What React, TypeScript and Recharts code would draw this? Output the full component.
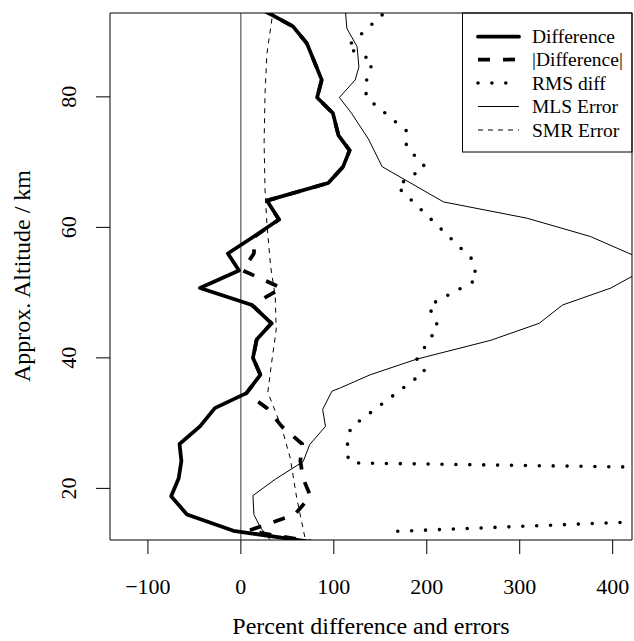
import React from 'react';
import {
  ScatterChart,
  Scatter,
  XAxis,
  YAxis,
  ReferenceLine,
  ReferenceArea,
  Label,
  Customized,
} from 'recharts';

const FONT = '"Liberation Serif", "Times New Roman", Times, serif';

// ---- Data (altitude km, percent) ----
const diffAlt = [93.6, 90.8, 88.2, 85.4, 82.6, 79.9, 77.5, 74.1, 71.8, 69.3, 66.8, 64.1, 61.2, 58.6, 56.0, 53.4, 50.7, 48.1, 45.3, 42.8, 40.0, 37.4, 34.6, 32.3, 29.5, 26.8, 24.2, 21.5, 18.8, 16.0, 13.5, 11.5];
const diffVal = [20, 56, 71, 79, 87, 82, 99, 105, 117, 110, 94, 28, 41, 14, -14, -2, -44, 12, 33, 17, 13, 21, 6, -28, -44, -66, -64, -67, -75, -58, -8, 90];

const absAlt = [93.6, 90.8, 88.2, 85.4, 82.6, 79.9, 77.5, 74.1, 71.8, 69.3, 66.8, 64.1, 61.2, 58.6, 56.0, 53.4, 50.7, 48.1, 45.3, 42.8, 40.0, 37.4, 34.6, 32.3, 29.5, 26.8, 24.2, 21.5, 18.8, 16.0, 13.5, 11.5];
const absVal = [20, 56, 71, 79, 87, 82, 99, 105, 117, 110, 94, 28, 41, 15, 14, 2, 44, 12, 33, 17, 13, 21, 6, 28, 44, 66, 64, 67, 75, 58, 8, 90];

const rmsAlt = [94.0, 87.6, 85.5, 82.0, 79.9, 74.8, 72.4, 69.3, 66.3, 55.1, 52.0, 48.0, 44.8, 39.7, 37.9, 29.3, 25.4, 23.9, 21.0, 13.4];
const rmsVal = [163, 114, 142, 134, 135, 178, 178, 198, 168, 249, 254, 202, 212, 189, 198, 118, 113, 118.5, 1508, 164];

const mlsAlt = [94.0, 90.5, 87.7, 84.6, 82.6, 79.9, 77.5, 73.6, 69.3, 63.9, 61.4, 58.6, 55.8, 54.2, 52.5, 50.7, 48.1, 45.3, 42.7, 39.8, 37.4, 35.4, 34.9, 32.1, 29.5, 26.7, 24.1, 21.4, 18.9, 16.0, 14.0, 12.2, 11.0];
const mlsVal = [112, 114, 125, 127, 123, 106, 119, 137, 152, 218, 308, 376, 421, 455, 421, 398, 346, 321, 269, 189, 139, 107, 98, 88, 91, 74, 67, 37, 13, 14, 21, 31, 38];

const smrAlt = [93.5, 86.6, 80.5, 72.9, 65.7, 60.6, 54.0, 49.4, 44.3, 39.2, 34.7, 29.3, 24.7, 18.6, 12.4, 11.0];
const smrVal = [35, 28, 26, 25, 26, 28, 32, 37, 38, 33, 29, 44, 53, 60, 69, 71];

const xTicks = [-100, 0, 100, 200, 300, 400];
const yTicks = [20, 40, 60, 80];

const legendLabels = ['Difference', '|Difference|', 'RMS diff', 'MLS Error', 'SMR Error'];

const toPts = (alt: number[], val: number[]) => alt.map((a, i) => ({ x: val[i], y: a }));

const diffPts = toPts(diffAlt, diffVal);
const absPts = toPts(absAlt, absVal);
const rmsPts = toPts(rmsAlt, rmsVal);
const mlsPts = toPts(mlsAlt, mlsVal);
const smrPts = toPts(smrAlt, smrVal);

const STYLES: any[] = [
  { stroke: '#000', strokeWidth: 3.75, strokeLinejoin: 'round', strokeLinecap: 'round' },
  { stroke: '#000', strokeWidth: 3.75, strokeLinejoin: 'round', strokeLinecap: 'butt', strokeDasharray: '12 13' },
  { stroke: '#000', strokeWidth: 3.6, strokeLinejoin: 'round', strokeLinecap: 'round', strokeDasharray: '0 13.9' },
  { stroke: '#000', strokeWidth: 1, strokeLinejoin: 'round' },
  { stroke: '#000', strokeWidth: 1, strokeLinejoin: 'round', strokeDasharray: '5 5' },
];

const fmt = (v: number) => (v < 0 ? '\u2212' + Math.abs(v) : String(v));

const XTick = (props: any) => {
  const { x, y, payload } = props;
  return (
    <text x={x} y={y + 40} textAnchor="middle" fontFamily={FONT} fontSize={22} fill="#000">
      {fmt(payload.value)}
    </text>
  );
};

const YTick = (props: any) => {
  const { x, y, payload } = props;
  const tx = x - 20;
  return (
    <text
      x={tx}
      y={y}
      transform={`rotate(-90 ${tx} ${y})`}
      textAnchor="middle"
      fontFamily={FONT}
      fontSize={22}
      fill="#000"
    >
      {fmt(payload.value)}
    </text>
  );
};

const noShape = () => <g />;

const LegendBox = () => {
  const left = 462.5;
  const top = 13;
  const rows = [36.7, 59.5, 83, 106.5, 130];
  return (
    <g>
      <rect x={left} y={top} width={169.5} height={139} fill="#fff" stroke="#000" strokeWidth={1} />
      {legendLabels.map((lab, i) => (
        <g key={lab}>
          <line x1={478} x2={519} y1={rows[i]} y2={rows[i]} {...STYLES[i]} />
          <text x={532} y={rows[i] + 6.5} fontFamily={FONT} fontSize={19.5} fill="#000">
            {lab}
          </text>
        </g>
      ))}
    </g>
  );
};

export default function App() {
  return (
    <div style={{ position: 'absolute', left: 0, top: 0, width: 634, height: 641, background: '#fff' }}>
      <ScatterChart width={634} height={641} margin={{ top: 13, right: 2, bottom: 0, left: 0 }}>
        <XAxis
          type="number"
          dataKey="x"
          domain={[-140.8, 420.8]}
          allowDataOverflow
          ticks={xTicks}
          interval={0}
          tickSize={14}
          tickMargin={0}
          axisLine={false}
          tickLine={{ stroke: '#000', strokeWidth: 1 }}
          tick={<XTick />}
          height={101}
        >
          <Label
            content={() => (
              <text x={371} y={634} textAnchor="middle" fontFamily={FONT} fontSize={24} fill="#000">
                Percent difference and errors
              </text>
            )}
          />
        </XAxis>
        <YAxis
          type="number"
          dataKey="y"
          domain={[12.09, 92.85]}
          allowDataOverflow
          ticks={yTicks}
          interval={0}
          tickSize={14}
          tickMargin={0}
          axisLine={false}
          tickLine={{ stroke: '#000', strokeWidth: 1 }}
          tick={<YTick />}
          width={110}
        >
          <Label
            content={() => (
              <text
                x={30}
                y={276}
                transform="rotate(-90 30 276)"
                textAnchor="middle"
                fontFamily={FONT}
                fontSize={24}
                fill="#000"
              >
                Approx. Altitude / km
              </text>
            )}
          />
        </YAxis>
        <ReferenceLine x={0} stroke="#333" strokeWidth={1} />
        <Scatter data={diffPts} line={STYLES[0]} lineJointType="linear" shape={noShape} isAnimationActive={false} />
        <Scatter data={absPts} line={STYLES[1]} lineJointType="linear" shape={noShape} isAnimationActive={false} />
        <Scatter data={rmsPts} line={STYLES[2]} lineJointType="linear" shape={noShape} isAnimationActive={false} />
        <Scatter data={mlsPts} line={STYLES[3]} lineJointType="linear" shape={noShape} isAnimationActive={false} />
        <Scatter data={smrPts} line={STYLES[4]} lineJointType="linear" shape={noShape} isAnimationActive={false} />
        <ReferenceArea
          x1={-140.8}
          x2={420.8}
          y1={12.09}
          y2={92.85}
          fill="none"
          fillOpacity={0}
          stroke="#000"
          strokeWidth={1}
          ifOverflow="visible"
        />
        <Customized component={LegendBox} />
      </ScatterChart>
    </div>
  );
}
